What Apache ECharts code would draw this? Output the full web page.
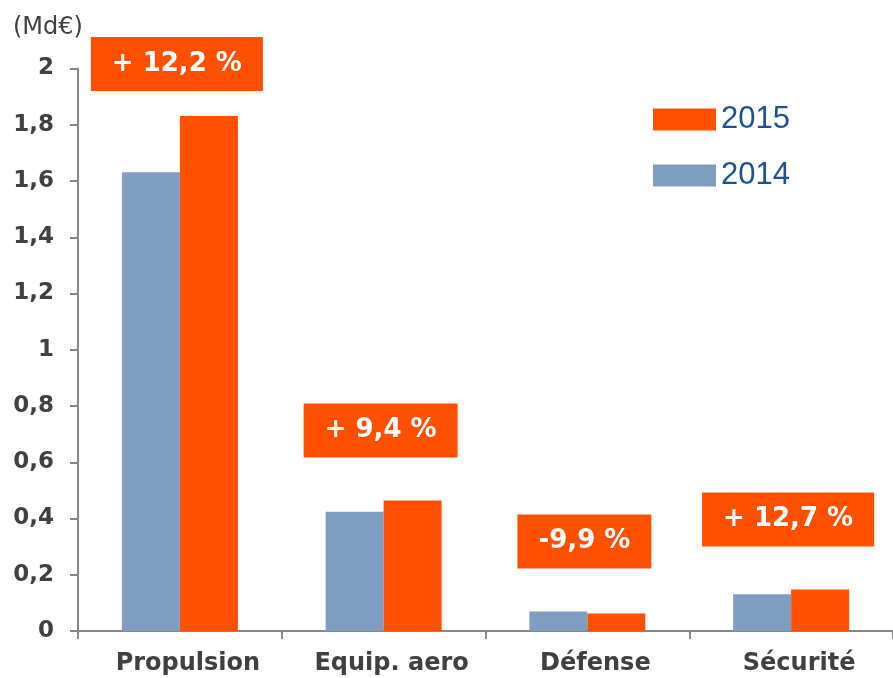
<!DOCTYPE html>
<html>
<head>
<meta charset="utf-8">
<script src="https://cdn.jsdelivr.net/npm/echarts@6/dist/echarts.min.js"></script>
<style>
html,body{margin:0;padding:0;background:#fff;}
#chart{width:893px;height:678px;}
</style>
</head>
<body>
<div id="chart"></div>
<script>
const categories = ['Propulsion', 'Equip. aero', 'Défense', 'Sécurité'];
const values2014 = [1.631, 0.424, 0.069, 0.131];
const values2015 = [1.831, 0.464, 0.062, 0.148];
const changeLabels = ['+ 12,2 %', '+ 9,4 %', '-9,9 %', '+ 12,7 %'];
const yTicks = [0, 0.2, 0.4, 0.6, 0.8, 1, 1.2, 1.4, 1.6, 1.8, 2];
const seriesNames = ['2014', '2015'];

const ORANGE = '#FF5000';
const BLUE = '#7F9DC1';
const GREY_TEXT = '#404040';
const AXIS = '#868686';
const boldFont = '"DejaVu Sans", sans-serif';

const chart = echarts.init(document.getElementById('chart'), null, {renderer: 'canvas'});

const annotationData = categories.map((c, i) => [i, Math.max(values2014[i], values2015[i])]);

chart.setOption({
  animation: false,
  backgroundColor: '#fff',
  title: {
    text: '(Md€)',
    left: 8,
    top: 11,
    textStyle: {fontFamily: boldFont, fontWeight: 'normal', fontSize: 24, color: GREY_TEXT}
  },
  legend: {
    data: ['2015', '2014'],
    orient: 'vertical',
    left: 648,
    top: 99,
    itemWidth: 63,
    itemHeight: 22,
    itemGap: 25,
    icon: 'rect',
    selectedMode: false,
    textStyle: {fontFamily: 'Liberation Sans, Arial, sans-serif', fontSize: 31, color: '#1F5190'}
  },
  grid: {left: 78, right: 0, top: 68.5, bottom: 47, containLabel: false},
  xAxis: {
    type: 'category',
    data: categories,
    boundaryGap: true,
    axisLine: {lineStyle: {color: AXIS, width: 2}},
    axisTick: {show: true, length: 8, lineStyle: {color: AXIS, width: 2}},
    axisLabel: {margin: 21, padding: [0, 0, 0, 16], fontFamily: boldFont, fontWeight: 'bold', fontSize: 24, color: GREY_TEXT, interval: 0}
  },
  yAxis: {
    type: 'value',
    min: 0,
    max: 2,
    interval: 0.2,
    axisLine: {show: true, lineStyle: {color: AXIS, width: 2}},
    axisTick: {show: true, length: 8, lineStyle: {color: AXIS, width: 2}},
    splitLine: {show: false},
    axisLabel: {
      margin: 24,
      fontFamily: boldFont, fontWeight: 'bold', fontSize: 23, color: GREY_TEXT,
      formatter: v => {
        const t = yTicks.find(x => Math.abs(x - v) < 1e-6);
        return String(t !== undefined ? t : Math.round(v * 10) / 10).replace('.', ',');
      }
    }
  },
  series: [
    {
      name: seriesNames[0], type: 'bar', data: values2014, barWidth: 58, barGap: '0%',
      itemStyle: {color: BLUE}
    },
    {
      name: seriesNames[1], type: 'bar', data: values2015, barWidth: 58, barGap: '0%',
      itemStyle: {color: ORANGE}
    },
    {
      name: 'annotations', type: 'custom', data: annotationData, z: 10,
      renderItem: (params, api) => {
        const p = api.coord([api.value(0), api.value(1)]);
        const boxH = 54, gap = 43, minTop = 37;
        const bottom = Math.max(p[1] - gap, minTop + boxH);
        return {
          type: 'text',
          x: p[0] - 3,
          y: bottom - boxH / 2,
          style: {
            text: changeLabels[params.dataIndex],
            fill: '#fff',
            font: 'bold 26px ' + boldFont,
            backgroundColor: ORANGE,
            padding: [14, 21],
            align: 'center',
            verticalAlign: 'middle'
          }
        };
      }
    }
  ]
});
</script>
</body>
</html>
